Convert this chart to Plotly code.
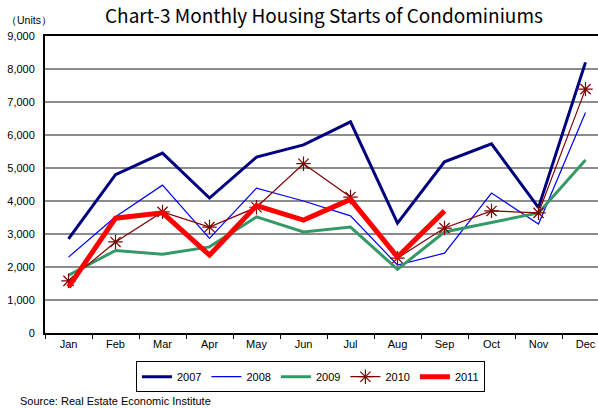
import plotly.graph_objects as go

months = ["Jan", "Feb", "Mar", "Apr", "May", "Jun", "Jul", "Aug", "Sep", "Oct", "Nov", "Dec"]
y2007 = [2850, 4800, 5450, 4090, 5330, 5700, 6400, 3330, 5190, 5730, 3800, 8200]
y2008 = [2300, 3520, 4480, 2870, 4390, 4000, 3550, 2060, 2420, 4240, 3300, 6680]
y2009 = [1750, 2500, 2390, 2610, 3520, 3060, 3210, 1930, 3060, 3350, 3640, 5240]
y2010 = [1580, 2760, 3670, 3210, 3810, 5130, 4120, 2270, 3180, 3700, 3640, 7390]
y2011 = [1390, 3480, 3640, 2360, 3860, 3420, 4050, 2300, 3700]
yticks = [0, 1000, 2000, 3000, 4000, 5000, 6000, 7000, 8000, 9000]

fig = go.Figure()
fig.add_trace(go.Scatter(x=months, y=y2007, name="2007", mode="lines",
                         line=dict(color="#00007f", width=3)))
fig.add_trace(go.Scatter(x=months, y=y2008, name="2008", mode="lines",
                         line=dict(color="#0000ff", width=1.2)))
fig.add_trace(go.Scatter(x=months, y=y2009, name="2009", mode="lines",
                         line=dict(color="#339966", width=3)))
fig.add_trace(go.Scatter(x=months, y=y2010, name="2010", mode="lines+markers",
                         line=dict(color="#800000", width=1.2),
                         marker=dict(symbol="asterisk-open", size=12,
                                     line=dict(color="#800000", width=1.2))))
fig.add_trace(go.Scatter(x=months[:len(y2011)], y=y2011, name="2011", mode="lines",
                         line=dict(color="#ff0000", width=5)))

fig.update_layout(
    width=598, height=408,
    margin=dict(l=45, r=0, t=36, b=75),
    paper_bgcolor="white", plot_bgcolor="white",
    font=dict(family="Liberation Sans, Arial, sans-serif", size=11, color="black"),
    showlegend=True,
    hovermode=False,
    legend=dict(orientation="h", x=0.48, xanchor="center", y=-0.095, yanchor="top",
                bordercolor="black", borderwidth=1, bgcolor="white",
                font=dict(size=11), itemwidth=30, tracegroupgap=0),
    xaxis=dict(type="category", categoryorder="array", categoryarray=months,
               range=[-0.5, 11.5 - 11 / 47], showline=True, linecolor="black",
               linewidth=2, mirror=True, ticks="outside", tickson="boundaries",
               ticklen=4, tickcolor="black", tickwidth=1, showgrid=False,
               zeroline=False, fixedrange=True),
    yaxis=dict(range=[0, 9000], tickvals=yticks, tickformat=",d",
               showline=True, linecolor="black", linewidth=2, mirror=False,
               showgrid=True, gridcolor="#8c8c8c", gridwidth=1.5,
               ticks="", zeroline=False, ticklabelstandoff=6, fixedrange=True),
    annotations=[
        dict(text="Chart-3 Monthly Housing Starts of Condominiums", xref="paper", yref="paper",
             x=0.504, y=1.0, yshift=6, xanchor="center", yanchor="bottom", showarrow=False,
             font=dict(size=19, family="Noto Sans CJK JP, sans-serif")),
        dict(text="（Units）", xref="paper", yref="paper", x=-0.075, y=1.0, yshift=8,
             xanchor="left", yanchor="bottom", showarrow=False, font=dict(size=10.5)),
        dict(text="Source: Real Estate Economic Institute", xref="paper", yref="paper",
             x=-0.048, y=-0.23, xanchor="left", yanchor="middle", showarrow=False,
             font=dict(size=11)),
    ],
)
fig.write_html("out.html", config={"displayModeBar": False},
               post_script="document.body.style.margin='0';")
